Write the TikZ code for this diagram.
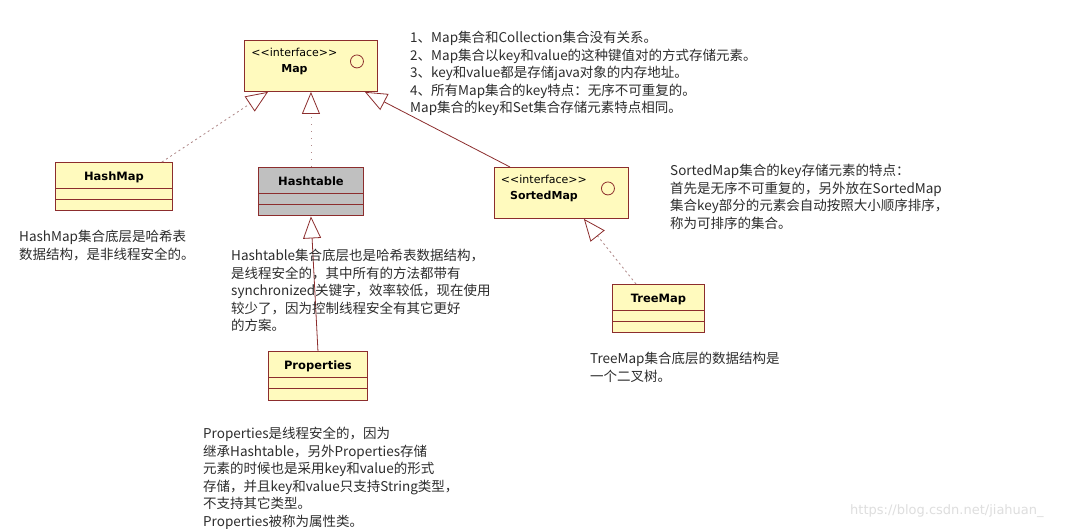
\documentclass[tikz,border=0pt]{standalone}
\usepackage{fontspec}
\setmainfont{Noto Sans CJK SC}
\newfontfamily\umlfont{DejaVu Sans}
\usetikzlibrary{arrows.meta}

\definecolor{umlred}{RGB}{140,45,45}
\definecolor{umlfill}{RGB}{255,250,190}
\definecolor{umlgray}{RGB}{192,192,192}
\definecolor{notegray}{RGB}{45,45,45}
\definecolor{dotline}{RGB}{175,135,135}

\tikzset{
  classbox/.style={draw=umlred,fill=umlfill,line width=.9pt,anchor=north west,
    font=\umlfont\bfseries\fontsize{11.5}{13}\selectfont,
    text height=12.5pt,text depth=24pt,inner ysep=6pt,
    path picture={\draw[umlred,line width=.9pt]
      ([yshift=-26pt]path picture bounding box.north west)--([yshift=-26pt]path picture bounding box.north east)
      ([yshift=-37pt]path picture bounding box.north west)--([yshift=-37pt]path picture bounding box.north east);}},
  ifacebox/.style={draw=umlred,fill=umlfill,line width=.9pt,anchor=north west,minimum height=51pt,
    path picture={\draw[umlred,line width=.8pt]
      ([xshift=-20.5pt,yshift=4.5pt]path picture bounding box.east) circle (6.5pt);}},
  ifacetext/.style={font=\umlfont\fontsize{11}{16}\selectfont,align=center,inner sep=0pt},
  note/.style={anchor=north west,inner sep=0pt,align=left,text=notegray,
    font=\fontsize{13.5}{17.5}\selectfont},
  inherit/.style={draw=umlred,line width=.8pt,
    -{Triangle[length=22pt,width=18pt,color=umlred,fill=white]}},
  realize/.style={inherit,draw=dotline,dash pattern=on 2pt off 3pt}
}

\begin{document}
\begin{tikzpicture}[x=1pt,y=-1pt]
  \useasboundingbox[fill=white] (0,0) rectangle (1066,529);

  % interfaces
  \node[ifacebox,minimum width=133pt] (map) at (244,40) {};
  \node[ifacetext] (maptxt) at ([xshift=-16.5pt,yshift=4.5pt]map.center) {<<interface>>\\\bfseries Map};
  \node[ifacebox,minimum width=134pt] (sm) at (494,167) {};
  \node[ifacetext] (smtxt) at ([xshift=-17.5pt,yshift=4.5pt]sm.center) {<<interface>>\\\bfseries SortedMap};

  % classes
  \node[classbox,minimum width=117pt] (hm) at (55,162) {HashMap};
  \node[classbox,minimum width=105pt,fill=umlgray] (ht) at (258,167) {Hashtable};
  \node[classbox,minimum width=99pt] (prop) at (268,351) {Properties};
  \node[classbox,minimum width=92pt] (tm) at (612,284) {TreeMap};

  % connectors
  \draw[realize] ([xshift=-11pt]hm.north east) -- ([xshift=24pt]map.south west);
  \draw[realize,dash pattern=on 1pt off 6pt] (ht.north) -- (map.south);
  \draw[inherit] ([xshift=16pt]sm.north west) -- ([xshift=-13pt]map.south east);
  \draw[realize] ([xshift=24pt]tm.north west) -- ([xshift=-45pt]sm.south east);
  \draw[inherit] (prop.north) -- (ht.south);

  % notes
  \node[note] (mapnote) at (410,31) {1、Map集合和Collection集合没有关系。\\
    2、Map集合以key和value的这种键值对的方式存储元素。\\
    3、key和value都是存储java对象的内存地址。\\
    4、所有Map集合的key特点：无序不可重复的。\\
    Map集合的key和Set集合存储元素特点相同。};
  \node[note] (hmnote) at (19,230) {HashMap集合底层是哈希表\\数据结构，是非线程安全的。};
  \node[note] (htnote) at (231,249) {Hashtable集合底层也是哈希表数据结构，\\
    是线程安全的，其中所有的方法都带有\\
    synchronized关键字，效率较低，现在使用\\
    较少了，因为控制线程安全有其它更好\\
    的方案。};
  \node[note] (smnote) at (670,164) {SortedMap集合的key存储元素的特点：\\
    首先是无序不可重复的，另外放在SortedMap\\
    集合key部分的元素会自动按照大小顺序排序，\\
    称为可排序的集合。};
  \node[note] (tmnote) at (590,352) {TreeMap集合底层的数据结构是\\一个二叉树。};
  \node[note] (propnote) at (203,427) {Properties是线程安全的，因为\\
    继承Hashtable，另外Properties存储\\
    元素的时候也是采用key和value的形式\\
    存储，并且key和value只支持String类型，\\
    不支持其它类型。\\
    Properties被称为属性类。};
  \node[anchor=west,text=black!13,font=\umlfont\fontsize{13}{15}\selectfont,inner sep=0pt] (mark) at (850,511) {https://blog.csdn.net/jiahuan\_};
\end{tikzpicture}
\end{document}
